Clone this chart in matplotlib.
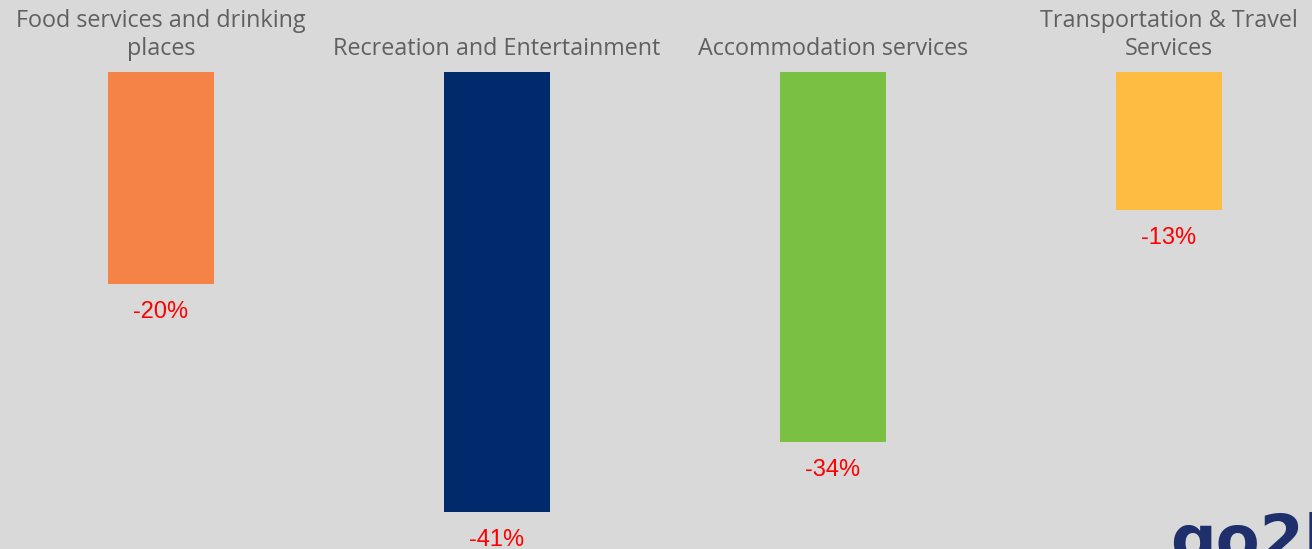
import matplotlib
matplotlib.use('Agg')
import matplotlib.pyplot as plt

categories = ['Food services and drinking\nplaces', 'Recreation and Entertainment',
              'Accommodation services', 'Transportation & Travel\nServices']
values = [-20.0, -41.5, -34.9, -13.0]
value_labels = ['-20%', '-41%', '-34%', '-13%']
colors = ['#F58345', '#002A6C', '#7AC043', '#FFBC42']

bg = '#D9D9D9'
fig = plt.figure(figsize=(13.12, 5.49), dpi=100, facecolor=bg)
ax = fig.add_axes([0, 0, 1, 1])
ax.set_facecolor(bg)

x = list(range(len(categories)))
ax.bar(x, values, width=0.315, color=colors)

px_x = 1 / 336.0   # data units per pixel horizontally
px_y = 1 / 10.6    # data units per pixel vertically
ax.set_xlim(-161 * px_x, -161 * px_x + 1312 * px_x)
ax.set_ylim(-(549 - 72) * px_y, 72 * px_y)
ax.axis('off')

for xi, cat in zip(x, categories):
    ax.text(xi, 11 * px_y, cat, ha='center', va='bottom', fontsize=16.8,
            family='Open Sans', color='#606060', linespacing=1.2)

for xi, v, lab in zip(x, values, value_labels):
    ax.text(xi, v - 28 * px_y, lab, ha='center', va='center', fontsize=17,
            family='Liberation Sans', color='#FF0000')

# partially visible logo in the corner
fig.text(1170 / 1312, -12 / 549, 'go2h', fontsize=46, fontweight='bold',
         family='DejaVu Sans', color='#1F2F6B', ha='left', va='baseline')

fig.savefig('out.png', dpi=100, facecolor=bg)
